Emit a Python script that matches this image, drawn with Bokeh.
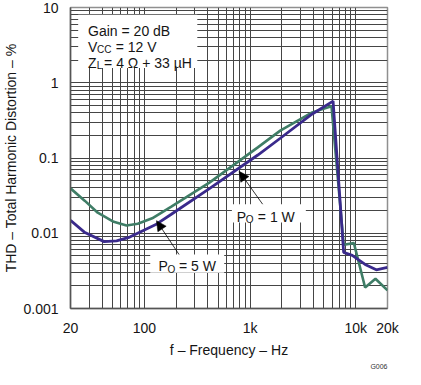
from bokeh.plotting import figure
from bokeh.models import Range1d, FixedTicker, Label, Arrow, NormalHead, BoxAnnotation, Title
from bokeh.embed import file_html
from bokeh.resources import INLINE

# ---- data ----
freq_5w = [20, 27.4, 36.2, 51.3, 67.8, 86.6, 118.6, 180, 416, 1185, 1933, 3882, 5904, 7692, 9616, 12280, 15380, 20000]
thd_5w = [0.0395, 0.0269, 0.01875, 0.0142, 0.01268, 0.0134, 0.0158, 0.0226, 0.0475, 0.1386, 0.231, 0.404, 0.486,
          0.00705, 0.0074, 0.0019, 0.00248, 0.00175]

freq_1w = [20, 27.4, 41.6, 54.6, 72.8, 127, 180, 416, 1185, 1933, 3882, 6110, 7692, 9275, 12280, 15660, 20000]
thd_1w = [0.01486, 0.0102, 0.00774, 0.0079, 0.00889, 0.01294, 0.01787, 0.0395, 0.1096, 0.183, 0.385, 0.569,
          0.00556, 0.00509, 0.00385, 0.00327, 0.00351]

x_major = [20, 100, 1000, 10000, 20000]
x_labels = ["20", "100", "1k", "10k", "20k"]
y_major = [0.001, 0.01, 0.1, 1, 10]
y_labels = ["0.001", "0.01", "0.1", "1", "10"]

x_grid = [m * 10 ** e for e in range(1, 4) for m in range(1, 10) if m * 10 ** e >= 20] + [10000, 20000]
y_grid = [m * 10.0 ** e for e in range(-3, 1) for m in range(1, 10)] + [10]

W, H = 405, 369
FONT = "Liberation Sans"
TXT = "#151515"
BL, BR, BT, BB = 58, 18, 7, 47   # borders around the frame (canvas px)

# reference page-pixel frame, used to place annotations relative to the data
RL, RR, RT, RB = 65, 395, 5, 334

def fx(px):
    return 20 * 10 ** ((px - RL) / (RR - RL) * 3)

def fy(py):
    return 10 ** (1 - (py - RT) / (RB - RT) * 4)

p = figure(width=W, height=H, x_axis_type="log", y_axis_type="log",
           x_range=Range1d(20, 20000), y_range=Range1d(0.001, 10),
           output_backend="svg", toolbar_location=None,
           min_border_left=BL, min_border_right=BR, min_border_top=BT, min_border_bottom=BB)

p.background_fill_color = "white"
p.border_fill_color = "white"
p.outline_line_color = "#8f8f8f"
p.outline_line_width = 1.5

p.xaxis.ticker = FixedTicker(ticks=x_major, minor_ticks=[])
p.yaxis.ticker = FixedTicker(ticks=y_major, minor_ticks=[])
p.xaxis.major_label_overrides = dict(zip(x_major, x_labels))
p.yaxis.major_label_overrides = dict(zip(y_major, y_labels))
p.xgrid.ticker = FixedTicker(ticks=x_grid, minor_ticks=[])
p.ygrid.ticker = FixedTicker(ticks=y_grid, minor_ticks=[])
for g in (p.xgrid, p.ygrid):
    g.grid_line_color = "#454545"
    g.grid_line_width = 1
    g.grid_line_alpha = 1

for ax in (p.xaxis, p.yaxis):
    ax.major_tick_line_color = None
    ax.minor_tick_line_color = None
    ax.axis_line_color = "#555555"
    ax.axis_line_width = 1.5
    ax.major_label_text_font = FONT
    ax.major_label_text_font_size = "14px"
    ax.major_label_text_color = TXT
    ax.axis_label_text_font = FONT
    ax.axis_label_text_font_size = "14px"
    ax.axis_label_text_font_style = "normal"
    ax.axis_label_text_color = TXT

p.xaxis.axis_label = "f \u2013 Frequency \u2013 Hz"
p.yaxis.axis_label = "THD \u2013 Total Harmonic Distortion \u2013 %"
p.xaxis.major_label_standoff = 5
p.yaxis.major_label_standoff = 6
p.xaxis.axis_label_standoff = 3
p.yaxis.axis_label_standoff = 1

p.line(freq_5w, thd_5w, line_color="#3f7d66", line_width=2.6)
p.line(freq_1w, thd_1w, line_color="#3a2a8c", line_width=2.8)

# white boxes behind texts
for l, r, t, b in [(73, 197, 13, 71), (233, 310, 220, 240), (148, 225, 275, 295)]:
    p.add_layout(BoxAnnotation(left=fx(l), right=fx(r), top=fy(t), bottom=fy(b),
                               fill_color="white", fill_alpha=1, line_alpha=0))

def txt(xp, yp, s, size=14):
    p.add_layout(Label(x=fx(xp), y=fy(yp), text=s, text_font=FONT, text_font_size=f"{size}px",
                       text_baseline="alphabetic", text_color=TXT))

txt(83.3, 30.5, "Gain = 20 dB")
txt(83.3, 47.7, "V")
txt(92.6, 50.7, "CC", 10)
txt(112, 47.7, "= 12 V")
txt(83.3, 65.7, "Z")
txt(92.2, 68.7, "L", 10)
txt(100, 65.7, "= 4 \u03a9 + 33 \u00b5H")

txt(238, 233.5, "P")
txt(247.5, 236.5, "O", 10)
txt(260, 233.5, "= 1 W")
txt(156.7, 288, "P")
txt(166, 291, "O", 10)
txt(178, 288, "= 5 W")

# "G006" tag under the x-axis label, right-aligned
p.add_layout(Title(text="G006", align="right", text_font=FONT, text_font_size="7px",
                   text_font_style="normal", text_color="#333333", standoff=0, offset=0), "below")

for (x0, y0, x1, y1) in [(265, 220, 240.5, 184), (178, 275, 154.5, 238)]:
    p.add_layout(Arrow(x_start=fx(x0), y_start=fy(y0), x_end=fx(x1), y_end=fy(y1),
                       line_color="black", line_width=0.8,
                       end=NormalHead(size=10, fill_color="black", line_color="black", line_width=0.5)))

open("out.html", "w").write(file_html(p, INLINE))
